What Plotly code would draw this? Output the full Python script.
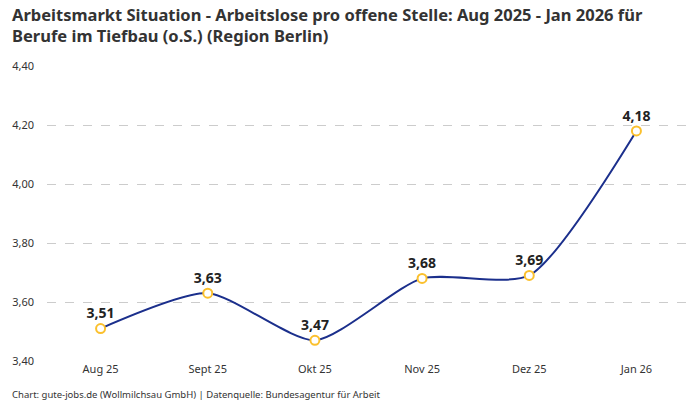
import plotly.graph_objects as go

months = ["Aug 25", "Sept 25", "Okt 25", "Nov 25", "Dez 25", "Jan 26"]
ratio = [3.51, 3.63, 3.47, 3.68, 3.69, 4.18]
y_ticks = [3.40, 3.60, 3.80, 4.00, 4.20, 4.40]

title_text = ("Arbeitsmarkt Situation - Arbeitslose pro offene Stelle: Aug 2025 - Jan 2026 für<br>"
              "Berufe im Tiefbau (o.S.) (Region Berlin)")
source_text = "Chart: gute-jobs.de (Wollmilchsau GmbH) | Datenquelle: Bundesagentur für Arbeit"

fig = go.Figure()
fig.add_trace(go.Scatter(
    x=months, y=ratio,
    mode="lines+markers+text",
    line=dict(color="#1b2f8c", width=2, shape="spline", smoothing=0.65),
    marker=dict(size=9, color="white", line=dict(color="#fbc02d", width=2)),
    text=["{:.2f}".format(v).replace(".", ",") for v in ratio],
    textposition="top center",
    textfont=dict(family="Noto Sans", size=14, color="#222222", weight="bold"),
    cliponaxis=False,
    hoverinfo="skip",
))

fig.update_layout(
    width=700, height=400,
    separators=",.",
    paper_bgcolor="white", plot_bgcolor="white",
    margin=dict(l=47, r=10, t=66, b=39),
    font=dict(family="Noto Sans", size=11, color="#333333"),
    showlegend=False,
    xaxis=dict(type="category", range=[-0.5, 5.5], showgrid=False, showline=False,
               ticks="", tickfont=dict(size=11, color="#333333")),
    yaxis=dict(range=[3.40, 4.40], tickvals=y_ticks, tickformat=".2f",
               showgrid=True, gridcolor="#cccccc", griddash="dash", gridwidth=1,
               zeroline=False, showline=False, ticks="",
               ticklabelstandoff=12, tickfont=dict(size=11, color="#333333")),
)

# title as annotation so both lines sit where they should
fig.add_annotation(text="<b>" + title_text + "</b>", xref="paper", yref="paper",
                   x=-0.058, y=1.22, xanchor="left", yanchor="top", align="left",
                   showarrow=False,
                   font=dict(family="Noto Sans", size=16.5, color="#333333"))

fig.add_annotation(text=source_text, xref="paper", yref="paper",
                   x=-0.058, y=-0.085, xanchor="left", yanchor="top", showarrow=False,
                   font=dict(family="Noto Sans", size=9.5, color="#333333"))

# drop the default body margin so the chart sits at the window's corner
fig.write_html("out.html", config={"displayModeBar": False},
               post_script="document.body.style.margin='0';")
